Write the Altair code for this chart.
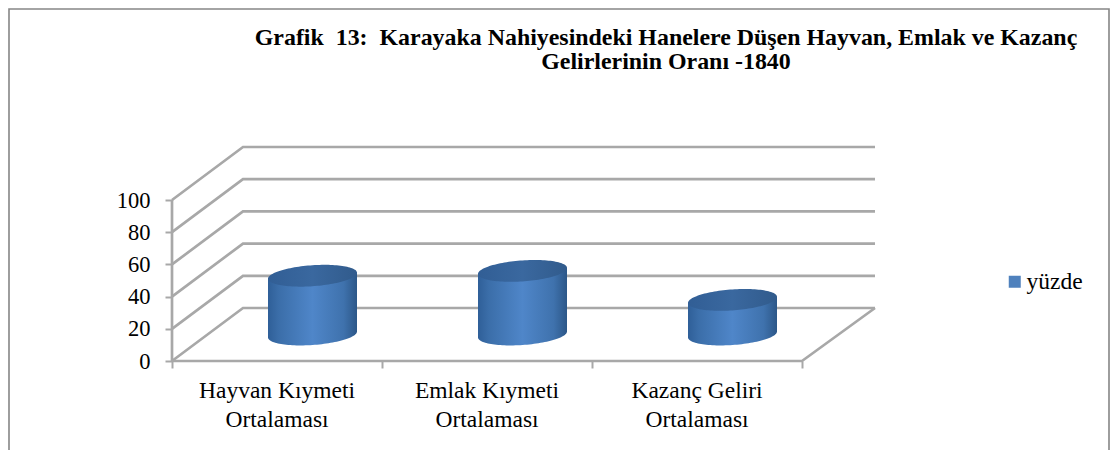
import math
import altair as alt
import pandas as pd

CATEGORIES = ["Hayvan Kıymeti", "Emlak Kıymeti", "Kazanç Geliri"]
CATEGORIES_2 = ["Ortalaması", "Ortalaması", "Ortalaması"]
VALUES = [36.5, 39.5, 21.5]
Y_TICKS = [0, 20, 40, 60, 80, 100]
TITLE_LINES = [
    "Grafik\u00a0\u00a013:\u00a0\u00a0Karayaka Nahiyesindeki Hanelere Düşen Hayvan, Emlak ve Kazanç",
    "Gelirlerinin Oranı -1840",
]
SERIES = "yüzde"
FONT = "Liberation Serif"
GRID = "#a8a8a8"

W, H = 1102, 442
PX_PER_CAT, PX_PER_VAL = 210.0, 1.61
ORIGIN_X, ORIGIN_Y = 164.0, 353.0     # plot-pixel place of (0, 0)
DX, DY = 71 / PX_PER_CAT, 53 / PX_PER_VAL   # oblique depth of the box
RX = 44.5 / PX_PER_CAT                # cylinder radius
RY = 10.5 / PX_PER_VAL
SHEAR = (3 / 44.5) * PX_PER_CAT / PX_PER_VAL
BACK_END = 3 + DX + 2 / PX_PER_CAT

xs = alt.Scale(domain=[-ORIGIN_X / PX_PER_CAT, (W - ORIGIN_X) / PX_PER_CAT], nice=False, zero=False)
ys = alt.Scale(domain=[(ORIGIN_Y - H) / PX_PER_VAL, ORIGIN_Y / PX_PER_VAL], nice=False, zero=False)
x_axis = alt.Axis(
    values=[0, 1, 2, 3], labels=False, title=None, domain=False, grid=False,
    tickColor=GRID, tickSize=7, tickWidth=2, orient="bottom", offset=-(H - ORIGIN_Y),
)
y_axis = alt.Axis(
    values=Y_TICKS, title=None, domain=False, grid=False, tickColor=GRID,
    tickSize=7, tickWidth=2, labelFont=FONT, labelFontSize=22.5, labelColor="#000000",
    labelPadding=15, offset=-ORIGIN_X,
)
X = alt.X("x:Q", scale=xs, axis=x_axis)
Y = alt.Y("y:Q", scale=ys, axis=y_axis)

# box grid: side wall + back wall for every tick
grid_rows = []
for v in Y_TICKS:
    grid_rows += [
        dict(g=v, o=0, x=0, y=v),
        dict(g=v, o=1, x=DX, y=v + DY),
        dict(g=v, o=2, x=BACK_END, y=v + DY),
    ]
grid = (
    alt.Chart(pd.DataFrame(grid_rows))
    .mark_line(color=GRID, strokeWidth=2.7, strokeJoin="miter")
    .encode(x=X, y=Y, detail="g:N", order="o:Q")
)

frame_rows = [
    dict(g="floor", o=0, x=0, y=0),
    dict(g="floor", o=1, x=3, y=0),
    dict(g="floor", o=2, x=BACK_END, y=DY),
    dict(g="wall", o=0, x=0, y=0),
    dict(g="wall", o=1, x=0, y=100),
]
box = (
    alt.Chart(pd.DataFrame(frame_rows))
    .mark_line(color=GRID, strokeWidth=2.7, strokeJoin="miter")
    .encode(x=X, y=Y, detail="g:N", order="o:Q")
)


def arc(center_x, center_y, sign):
    """Lower or upper edge of the tilted ellipse, in data units."""
    out = []
    for i in range(61):
        t = math.pi * i / 60
        u = math.cos(t)
        out.append((center_x + RX * u, center_y + SHEAR * RX * u + sign * RY * math.sin(t)))
    return out


body_rows, top_rows = [], []
for i, v in enumerate(VALUES):
    cx = i + 0.5 + DX / 2
    floor = DY / 2
    for (x, y0) in arc(cx, floor, -1):
        body_rows.append(dict(c=i, x=x, y=y0, top=floor + v + SHEAR * (x - cx)))
    for (x, y0), (_, y1) in zip(arc(cx, floor + v, -1), arc(cx, floor + v, 1)):
        top_rows.append(dict(c=i, x=x, y=y0, top=y1))

side_fill = alt.Gradient(
    gradient="linear", x1=0, x2=1, y1=0, y2=0,
    stops=[
        alt.GradientStop(offset=0, color="#2f5f98"),
        alt.GradientStop(offset=0.12, color="#3b6ea9"),
        alt.GradientStop(offset=0.5, color="#4f86c9"),
        alt.GradientStop(offset=0.85, color="#3f72ad"),
        alt.GradientStop(offset=1, color="#2c5788"),
    ],
)
top_fill = alt.Gradient(
    gradient="linear", x1=0, x2=1, y1=0, y2=0,
    stops=[
        alt.GradientStop(offset=0, color="#315e95"),
        alt.GradientStop(offset=0.5, color="#3a689f"),
        alt.GradientStop(offset=1, color="#315b8c"),
    ],
)
bodies = (
    alt.Chart(pd.DataFrame(body_rows))
    .mark_area(color=side_fill, interpolate="linear", opacity=1)
    .encode(x=X, y=Y, y2="top:Q", detail="c:N")
)
tops = (
    alt.Chart(pd.DataFrame(top_rows))
    .mark_area(color=top_fill, interpolate="linear", opacity=1)
    .encode(x=X, y=Y, y2="top:Q", detail="c:N")
)

# category labels
cat_df = pd.DataFrame(
    {"x": [i + 0.5 for i in range(3)], "y": [0] * 3, "a": CATEGORIES, "b": CATEGORIES_2}
)
cat1 = alt.Chart(cat_df).mark_text(font=FONT, fontSize=23.5, color="#000000", dy=30).encode(x=X, y=Y, text="a:N")
cat2 = alt.Chart(cat_df).mark_text(font=FONT, fontSize=23.5, color="#000000", dy=59).encode(x=X, y=Y, text="b:N")

# title
title_df = pd.DataFrame({"t": TITLE_LINES, "py": [30, 54]})
title = (
    alt.Chart(title_df)
    .mark_text(font=FONT, fontSize=23.9, fontWeight="bold", color="#000000", align="center")
    .encode(x=alt.value(658), y=alt.Y("py:Q", scale=None), text="t:N")
)

# legend
legend_layer = (
    alt.Chart(pd.DataFrame({"x": [0], "y": [0], "s": [SERIES]}))
    .mark_square(size=0)
    .encode(
        x=X, y=Y,
        fill=alt.Fill(
            "s:N",
            scale=alt.Scale(domain=[SERIES], range=["#4f81bd"]),
            legend=alt.Legend(
                title=None, orient="none", legendX=995, legendY=262, symbolType="square",
                symbolSize=144, symbolStrokeWidth=0, symbolOpacity=1, labelFont=FONT, labelFontSize=23.5,
                labelColor="#000000", labelOffset=0,
            ),
        ),
    )
)

# outer frame of the picture (no bottom edge visible)
frame_df = pd.DataFrame(
    {"px": [1, 1, W - 1, W - 1], "py": [H, 1, 1, H], "o": [0, 1, 2, 3]}
)
outer = (
    alt.Chart(frame_df)
    .mark_line(color="#868686", strokeWidth=1.6)
    .encode(
        x=alt.X("px:Q", scale=None),
        y=alt.Y("py:Q", scale=None),
        order="o:Q",
    )
)

chart = (
    alt.layer(outer, grid, box, bodies, tops, cat1, cat2, title, legend_layer)
    .resolve_scale(x="shared", y="shared")
    .properties(width=W, height=H, padding=0, autosize=alt.AutoSizeParams(type="none"), background="#ffffff")
    .configure_view(stroke=None)
)
chart.save("out.html", embed_options={"renderer": "svg", "actions": False})
